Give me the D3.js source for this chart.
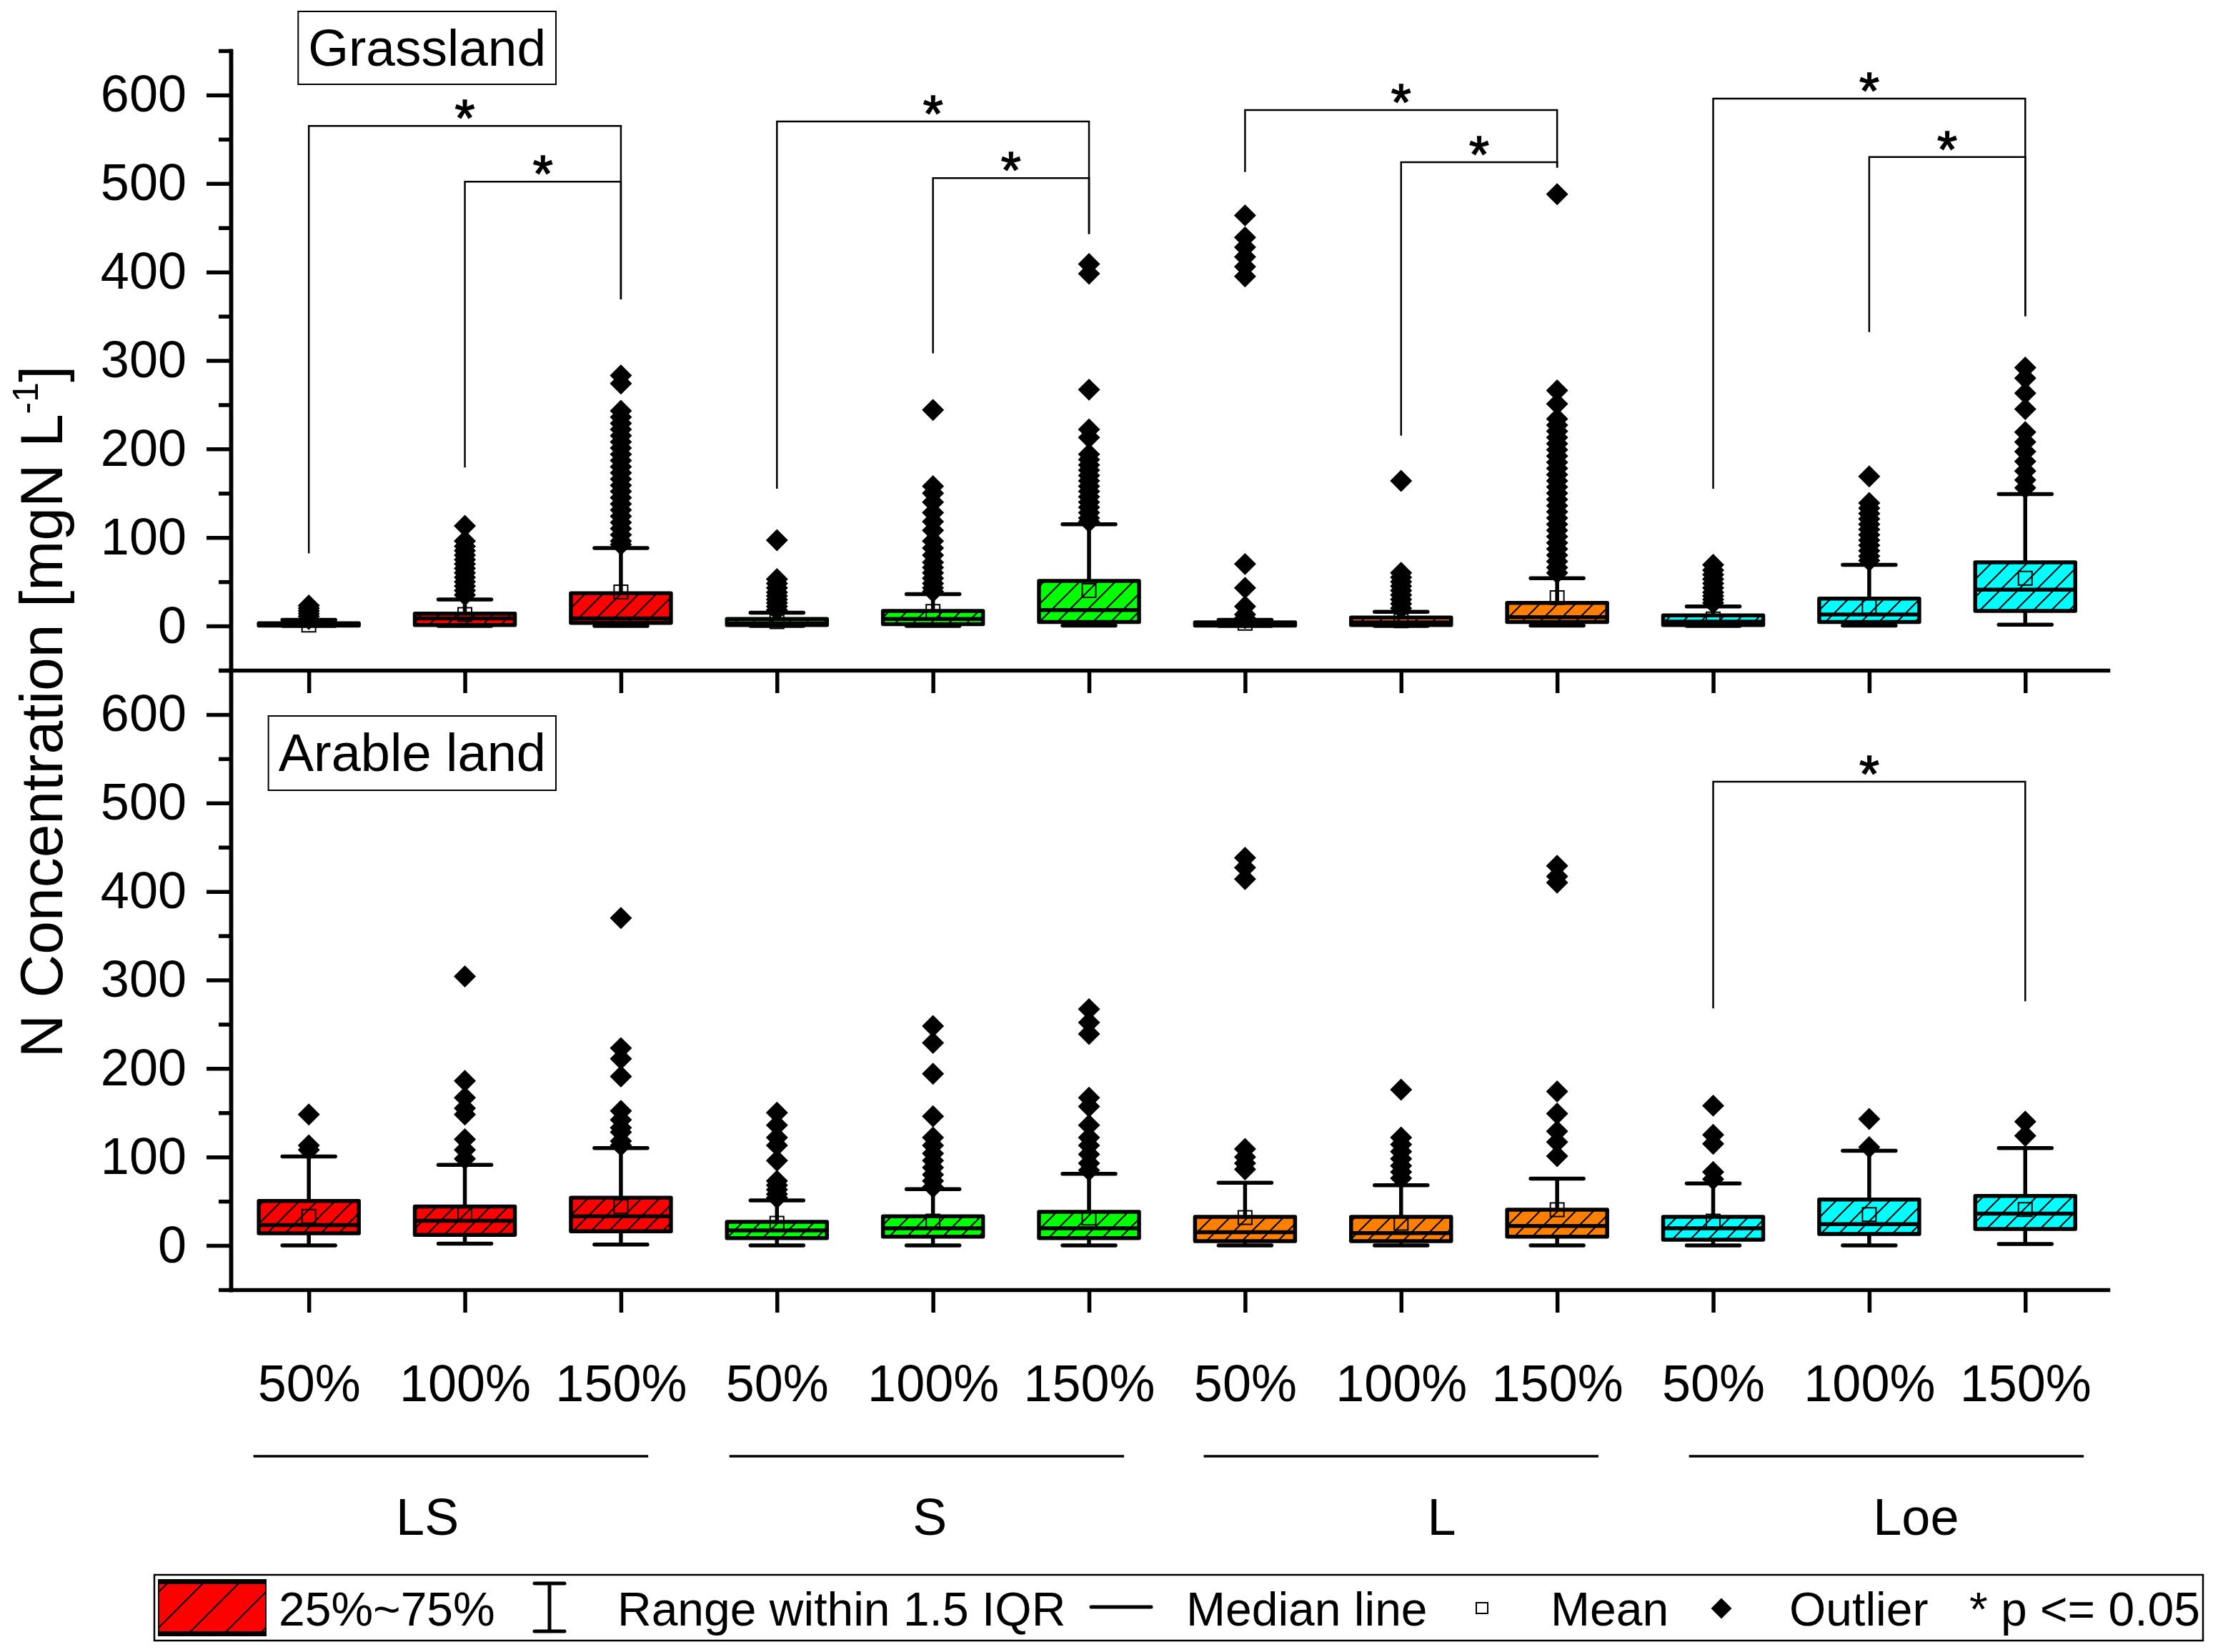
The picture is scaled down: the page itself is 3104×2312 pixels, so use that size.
<!DOCTYPE html>
<html>
<head>
<meta charset="utf-8">
<script src="https://cdn.jsdelivr.net/npm/d3@7"></script>
<style>
  body { margin: 0; background: #fff; }
</style>
</head>
<body>
<script>
// categories
var levels = ["50%", "100%", "150%"];
var groups = ["LS", "S", "L", "Loe"];
var groupColors = ["#ff0000", "#00ff00", "#ff8000", "#00ffff"];
var groupLabelPos = [0.76, 3.98, 7.26, 10.3]; // group names, in box-index units
var groupLinePos = [0.91, 3.96, 7.0, 10.11];  // centres of the lines above the names
var yTicks = [0, 100, 200, 300, 400, 500, 600];

// Grassland box stats (LS50 ... Loe150)
var grassQ1     = [0.5, 1, 3.5, 1, 2, 4.5, 0.5, 1, 4.5, 1, 4.5, 17];
var grassMedian = [2, 8.5, 8.5, 3, 8, 18, 1.5, 4, 10, 5, 13, 41];
var grassQ3     = [3, 14, 37, 8, 17, 51, 4, 9.5, 26, 12, 31, 72];
var grassLow    = [0, 0, 0, 0, 0, 0.5, 0, 0, 0.5, 0, 0.5, 1.5];
var grassHigh   = [7, 30, 88, 15, 36, 115, 7, 16, 54, 22, 69, 149];
var grassMean   = [1, 13, 38.5, 5, 16.5, 40, 3, 6, 32, 8, 22, 54];
var grassOutliers = [
  [8, 11, 14, 17, 20, 23],
  [113, 96, 90, 85, 80, 75, 70, 65, 60, 55, 50, 45, 40, 35],
  [283, 274, 243, 236, 229, 222, 215, 208, 201, 194, 187, 180, 173, 166, 159, 152, 145, 138, 131, 124, 117, 110, 103, 96, 92],
  [97, 53, 48, 43, 38, 34, 30, 26, 22, 18],
  [244, 158, 150, 140, 128, 118, 108, 96, 88, 80, 72, 66, 60, 54, 48, 43, 39],
  [409, 398, 267, 222, 213, 194, 188, 182, 176, 170, 164, 158, 152, 146, 140, 134, 128, 122, 118],
  [464, 439, 428, 417, 406, 395, 70, 43, 22, 13, 9],
  [164, 60, 55, 50, 45, 40, 35, 30, 25, 20],
  [488, 266, 251, 234, 227, 220, 213, 206, 199, 192, 185, 178, 171, 164, 157, 150, 143, 136, 129, 122, 115, 108, 101, 94, 87, 80, 73, 66, 60],
  [69, 63, 58, 53, 48, 43, 38, 34, 30, 26],
  [169, 139, 133, 127, 121, 115, 109, 103, 97, 91, 85, 79, 74],
  [292, 280, 263, 245, 219, 208, 197, 186, 175, 165, 156]
];
// [from box, to box, bracket level, left leg end, right leg end]
var grassBrackets = [
  [0, 2, 565, 82, 369], [1, 2, 502, 179, 369],
  [3, 5, 570, 155, 443], [4, 5, 506, 308, 443],
  [6, 8, 583, 513, 518], [7, 8, 524, 215, 518],
  [9, 11, 596, 155, 350], [10, 11, 530, 332, 350]
];

// Arable land box stats
var arableQ1     = [13.8, 12, 16, 8.4, 10, 8.4, 5, 5, 10, 6.5, 13, 18.6];
var arableMedian = [23, 28, 33, 17, 19.5, 19.5, 15, 14, 22, 19.5, 24, 36];
var arableQ3     = [50.4, 44, 54, 26.8, 33, 38, 32.4, 32.4, 40.5, 32.4, 52, 56];
var arableLow    = [0, 2, 1, 0, 0, 0, 0, 0, 0, 0, 0, 1.6];
var arableHigh   = [100.5, 91, 110, 51, 63.6, 81, 71, 68, 75.6, 70, 107, 110];
var arableMean   = [33, 35, 44, 25, 27.6, 31, 31.6, 25, 40.5, 27.5, 35, 40.7];
var arableOutliers = [
  [148, 113, 108],
  [304, 186, 167, 155, 148, 120, 108, 98],
  [370, 223, 211, 191, 152, 142, 133, 128, 118, 113],
  [150, 136, 122, 113, 96, 73, 68, 63, 58, 54],
  [248, 229, 194, 146, 122, 113, 104, 96, 88, 80, 73, 66],
  [267, 252, 239, 167, 157, 136, 122, 113, 103, 93, 85],
  [438, 427, 414, 109, 100, 93, 86],
  [176, 122, 114, 106, 98, 90, 83, 76],
  [429, 417, 410, 174, 149, 129, 117, 101],
  [158, 125, 115, 83, 75],
  [143, 111],
  [140, 124]
];
var arableBrackets = [[9, 11, 524, 268, 276]];

var legendLabels = ["25%~75%", "Range within 1.5 IQR", "Median line", "Mean", "Outlier", "* p <= 0.05"];

var font = "'Liberation Sans', Arial, Helvetica, sans-serif";
var width = 3104, height = 2312;
var lw = 5.5;

var svg = d3.select("body").append("svg")
    .attr("width", width)
    .attr("height", height)
    .style("background", "#fff")
    .attr("font-family", font);

// hatch patterns
var defs = svg.append("defs");
function hatch(id, s, w){
    defs.append("pattern")
        .attr("id", id)
        .attr("patternUnits", "userSpaceOnUse")
        .attr("width", s).attr("height", s)
        .append("path")
        .attr("d", `M${-s/4},${s/4}L${s/4},${-s/4}M0,${s}L${s},0M${s*3/4},${s*5/4}L${s*5/4},${s*3/4}`)
        .attr("stroke", "#000")
        .attr("stroke-width", w);
}
hatch("hatch", 25, 2);
hatch("hatchWide", 50, 2);

var x = d3.scaleLinear().domain([-0.5, 11.53]).range([323, 2950]);
var yTop = d3.scaleLinear().domain([-50, 650]).range([938, 71]);
var yBot = d3.scaleLinear().domain([-50, 650]).range([1805, 938]);

function styleAxis(g){
    g.selectAll("path.domain").attr("stroke-width", lw).attr("stroke-linecap", "square");
    g.selectAll(".tick line").attr("stroke-width", lw);
    g.selectAll(".tick text").attr("font-size", 72).attr("font-family", font).attr("fill", "#000");
}

function drawPanel(y, st, outliers, brackets, xLabels){
    //axes
    svg.append("g").attr("transform", "translate(323,0)")
        .call(d3.axisLeft(y).tickValues(d3.range(-50, 651, 100)).tickSize(17).tickFormat("").tickSizeOuter(0))
        .call(styleAxis);
    svg.append("g").attr("transform", "translate(323,0)")
        .call(d3.axisLeft(y).tickValues(yTicks).tickSize(34).tickPadding(28).tickSizeOuter(0))
        .call(styleAxis);
    var xAxis = d3.axisBottom(x).tickValues(d3.range(12)).tickSize(32).tickSizeOuter(0);
    if(xLabels){
        xAxis.tickFormat(i => levels[i % 3]).tickPadding(73);
    } else {
        xAxis.tickFormat("");
    }
    svg.append("g").attr("transform", `translate(0,${y.range()[0]})`)
        .call(xAxis)
        .call(styleAxis);

    var boxes = d3.range(12).map(i => ({
        i: i, q1: st.q1[i], med: st.med[i], q3: st.q3[i], lo: st.lo[i], hi: st.hi[i], mean: st.mean[i],
        color: groupColors[Math.floor(i / 3)], out: outliers[i]
    }));
    var g = svg.append("g");
    var bw = 140, cw = 74;

    // whiskers
    g.selectAll("line.whisker")
        .data(boxes.flatMap(d => [[d.i, d.q3, d.hi], [d.i, d.q1, d.lo]]))
        .enter().append("line")
        .attr("x1", d => x(d[0])).attr("x2", d => x(d[0]))
        .attr("y1", d => y(d[1])).attr("y2", d => y(d[2]))
        .attr("stroke", "#000").attr("stroke-width", lw);
    g.selectAll("line.cap")
        .data(boxes.flatMap(d => [[d.i, d.hi], [d.i, d.lo]]))
        .enter().append("line")
        .attr("x1", d => x(d[0]) - cw / 2).attr("x2", d => x(d[0]) + cw / 2)
        .attr("y1", d => y(d[1])).attr("y2", d => y(d[1]))
        .attr("stroke", "#000").attr("stroke-width", lw).attr("stroke-linecap", "round");

    // boxes: fill, hatch, border
    ["fill", "hatch", "border"].forEach(layer => {
        g.selectAll("rect.b" + layer)
            .data(boxes).enter().append("rect")
            .attr("x", d => x(d.i) - bw / 2).attr("width", bw)
            .attr("y", d => y(d.q3)).attr("height", d => y(d.q1) - y(d.q3))
            .attr("fill", d => layer == "fill" ? d.color : layer == "hatch" ? "url(#hatch)" : "none")
            .attr("stroke", layer == "border" ? "#000" : "none")
            .attr("stroke-width", lw)
            .attr("stroke-linejoin", "round");
    });
    g.selectAll("line.median")
        .data(boxes).enter().append("line")
        .attr("x1", d => x(d.i) - bw / 2).attr("x2", d => x(d.i) + bw / 2)
        .attr("y1", d => y(d.med)).attr("y2", d => y(d.med))
        .attr("stroke", "#000").attr("stroke-width", lw);

    // mean
    g.selectAll("path.mean")
        .data(boxes).enter().append("path")
        .attr("d", d3.symbol(d3.symbolSquare, 361))
        .attr("transform", d => `translate(${x(d.i)},${y(d.mean)})`)
        .attr("fill", "none").attr("stroke", "#000").attr("stroke-width", 2);

    // outliers
    g.selectAll("path.outlier")
        .data(boxes.flatMap(d => d.out.map(v => [d.i, v])))
        .enter().append("path")
        .attr("d", d3.symbol(d3.symbolSquare, 480))
        .attr("transform", d => `translate(${x(d[0])},${y(d[1])}) rotate(45)`)
        .attr("fill", "#000");

    // significance brackets
    g.selectAll("path.bracket")
        .data(brackets).enter().append("path")
        .attr("d", d => `M${x(d[0])},${y(d[3])}V${y(d[2])}H${x(d[1])}V${y(d[4])}`)
        .attr("fill", "none").attr("stroke", "#000").attr("stroke-width", 2.5);
    g.selectAll("text.star")
        .data(brackets).enter().append("text")
        .attr("x", d => (x(d[0]) + x(d[1])) / 2)
        .attr("y", d => y(d[2]) + 14)
        .attr("text-anchor", "middle")
        .attr("font-size", 72)
        .attr("stroke", "#000").attr("stroke-width", 1.5)
        .text("*");
}

drawPanel(yTop,
    {q1: grassQ1, med: grassMedian, q3: grassQ3, lo: grassLow, hi: grassHigh, mean: grassMean},
    grassOutliers, grassBrackets, false);
drawPanel(yBot,
    {q1: arableQ1, med: arableMedian, q3: arableQ3, lo: arableLow, hi: arableHigh, mean: arableMean},
    arableOutliers, arableBrackets, true);

// panel labels with frames
function panelLabel(txt, xr, yb, size){
    var r = svg.append("rect");
    var t = svg.append("text")
        .attr("x", xr).attr("y", yb)
        .attr("text-anchor", "end")
        .attr("font-size", size)
        .text(txt);
    var bb = t.node().getBBox();
    r.attr("x", bb.x - 14).attr("y", bb.y - 10)
        .attr("width", bb.width + 28).attr("height", bb.height + 21)
        .attr("fill", "#fff").attr("stroke", "#000").attr("stroke-width", 2);
}
panelLabel("Grassland", 764, 92, 73);
panelLabel("Arable land", 764, 1079, 74);

// y title
var yt = svg.append("text")
    .attr("transform", "translate(87,996) rotate(-90)")
    .attr("text-anchor", "middle")
    .attr("font-size", 84);
yt.append("tspan").text("N Concentration [mgN L");
yt.append("tspan").attr("font-size", 50).attr("dy", -34).text("-1");
yt.append("tspan").attr("dy", 34).text("]");

// group labels and separators
svg.selectAll("line.groupsep")
    .data(groups).enter().append("line")
    .attr("x1", (d, k) => x(groupLinePos[k] - 1.265)).attr("x2", (d, k) => x(groupLinePos[k] + 1.265))
    .attr("y1", 2038).attr("y2", 2038)
    .attr("stroke", "#000").attr("stroke-width", 3.5);
svg.selectAll("text.group")
    .data(groups).enter().append("text")
    .attr("x", (d, k) => x(groupLabelPos[k]))
    .attr("y", 2148)
    .attr("text-anchor", "middle")
    .attr("font-size", 72)
    .text(d => d);

// legend
var lg = svg.append("g").attr("font-size", 66);
lg.append("rect").attr("x", 216).attr("y", 2204).attr("width", 2867).attr("height", 92)
    .attr("fill", "none").attr("stroke", "#000").attr("stroke-width", 2.5);
lg.append("rect").attr("x", 222).attr("y", 2211).attr("width", 150).attr("height", 78)
    .attr("fill", groupColors[0]);
lg.append("rect").attr("x", 222).attr("y", 2211).attr("width", 150).attr("height", 78)
    .attr("fill", "url(#hatchWide)").attr("stroke", "#000").attr("stroke-width", 2);
lg.selectAll("line.swedge").data([2214, 2286]).enter().append("line")
    .attr("x1", 222).attr("x2", 372).attr("y1", d => d).attr("y2", d => d)
    .attr("stroke", "#000").attr("stroke-width", 6);
lg.append("path").attr("d", "M748,2216H790M769,2216V2283M748,2283H790")
    .attr("fill", "none").attr("stroke", "#000").attr("stroke-width", 5).attr("stroke-linecap", "round");
lg.append("line").attr("x1", 1527).attr("x2", 1611).attr("y1", 2249).attr("y2", 2249)
    .attr("stroke", "#000").attr("stroke-width", 5).attr("stroke-linecap", "round");
lg.append("rect").attr("x", 2066).attr("y", 2243).attr("width", 16).attr("height", 15)
    .attr("fill", "none").attr("stroke", "#000").attr("stroke-width", 2);
lg.append("path").attr("d", d3.symbol(d3.symbolSquare, 420))
    .attr("transform", "translate(2409,2251) rotate(45)").attr("fill", "#000");
var legendX = [390, 864, 1660, 2170, 2504, 2756];
lg.selectAll("text.leg").data(legendLabels).enter().append("text")
    .attr("x", (d, k) => legendX[k]).attr("y", 2275)
    .text(d => d);
</script>
</body>
</html>
